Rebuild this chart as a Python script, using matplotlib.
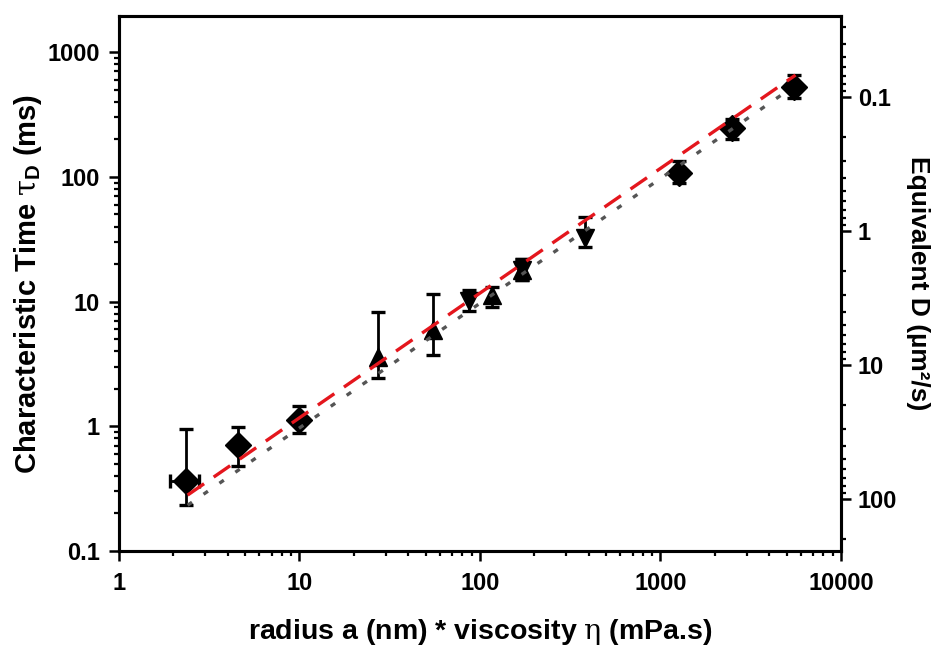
import matplotlib

matplotlib.use("Agg")
import matplotlib.pyplot as plt
import numpy as np
from matplotlib.ticker import FixedLocator, FixedFormatter, LogLocator, NullFormatter

plt.rcParams["font.family"] = ["Liberation Sans", "DejaVu Sans"]
plt.rcParams["font.weight"] = "bold"
plt.rcParams["axes.labelweight"] = "bold"
plt.rcParams["mathtext.fontset"] = "custom"
plt.rcParams["mathtext.rm"] = "Liberation Sans:bold"
plt.rcParams["mathtext.it"] = "DejaVu Serif:weight=normal:style=normal"

# a*eta (nm * mPa.s) and characteristic time tau_D (ms)
diamond_x = [2.35, 4.58, 10.0, 1265, 2480, 5495]
diamond_y = [0.364, 0.703, 1.12, 108, 245, 528]
diamond_lo = [0.234, 0.483, 0.88, 89.6, 203, 427]
diamond_hi = [0.955, 0.98, 1.45, 134, 293, 662]

circle_x = [2.35, 4.58, 10.0, 1265, 2480, 5495]
circle_y = [0.364, 0.703, 1.12, 108, 245, 528]

up_x = [27.3, 54.9, 116, 172]
up_y = [3.6, 5.9, 11.2, 18.0]
up_lo = [2.44, 3.73, 9.05, 14.9]
up_hi = [8.3, 11.4, 13.2, 22.0]

down_x = [86.9, 172, 384]
down_y = [10.1, 18.0, 32.5]
down_lo = [8.4, 14.9, 27.6]
down_hi = [12.3, 22.0, 48.0]

# horizontal error on the smallest probe
first_x_lo = 1.91
first_x_hi = 2.79

# linear fits tau = k * (a*eta)
red_k, red_range = 0.117, (2.4, 5600)
gray_k, gray_range = 0.097, (2.4, 4900)

left_ticks = [0.1, 1, 10, 100, 1000]
left_labels = ["0.1", "1", "10", "100", "1000"]
bottom_ticks = [1, 10, 100, 1000, 10000]
bottom_labels = ["1", "10", "100", "1000", "10000"]
right_ticks = [0.1, 1, 10, 100]
right_labels = ["0.1", "1", "10", "100"]


def yerr(y, lo, hi):
    y = np.asarray(y)
    return [y - np.asarray(lo), np.asarray(hi) - y]


fig = plt.figure(figsize=(9.34, 6.48), dpi=100)
ax = fig.add_axes([0.1274, 0.1497, 0.7730, 0.8256])

err_kw = dict(fmt="none", ecolor="black", elinewidth=2.0, capsize=4.8, capthick=2.4, zorder=3)
ax.errorbar(diamond_x, diamond_y, yerr=yerr(diamond_y, diamond_lo, diamond_hi), **err_kw)
ax.errorbar(up_x, up_y, yerr=yerr(up_y, up_lo, up_hi), **err_kw)
ax.errorbar(down_x, down_y, yerr=yerr(down_y, down_lo, down_hi), **err_kw)
ax.errorbar(
    [diamond_x[0]], [diamond_y[0]],
    xerr=[[diamond_x[0] - first_x_lo], [first_x_hi - diamond_x[0]]],
    **err_kw,
)

ax.plot(diamond_x, diamond_y, "D", color="black", markersize=13, zorder=4)
ax.plot(circle_x, circle_y, "o", color="black", markersize=12, zorder=4)
ax.plot(up_x, up_y, "^", color="black", markersize=13, zorder=4)
ax.plot(down_x, down_y, "v", color="black", markersize=13, zorder=4)

xr = np.array(red_range)
ax.plot(xr, red_k * xr, color="#e4161d", linewidth=2.4, dashes=(6, 3.5), zorder=5)
xg = np.array(gray_range)
ax.plot(xg, gray_k * xg, color="#555555", linewidth=2.4, dashes=(1.6, 4.2), zorder=5)

ax.set_xscale("log")
ax.set_yscale("log")
ax.set_xlim(1, 10000)
ax.set_ylim(0.1, 1950)

ax.xaxis.set_major_locator(FixedLocator(bottom_ticks))
ax.xaxis.set_major_formatter(FixedFormatter(bottom_labels))
ax.yaxis.set_major_locator(FixedLocator(left_ticks))
ax.yaxis.set_major_formatter(FixedFormatter(left_labels))
for axis in (ax.xaxis, ax.yaxis):
    axis.set_minor_locator(LogLocator(base=10, subs=np.arange(2, 10)))
    axis.set_minor_formatter(NullFormatter())

for spine in ax.spines.values():
    spine.set_linewidth(2.2)

ax.tick_params(which="major", direction="out", length=7, width=1.8, labelsize=17)
ax.tick_params(axis="x", which="major", pad=8)
ax.tick_params(axis="y", which="major", pad=7)
ax.tick_params(which="minor", direction="out", length=3.6, width=1.6)
ax.tick_params(top=False, right=False, which="both")

ax.set_xlabel(r"radius a (nm) * viscosity $\eta$ (mPa.s)", fontsize=20.5, labelpad=16)
ax.set_ylabel(r"Characteristic Time $\tau_\mathrm{D}$ (ms)", fontsize=21, labelpad=2)

# equivalent diffusion coefficient, inverse scale on the right
ax2 = ax.twinx()
ax2.set_yscale("log")
ax2.set_ylim(245, 0.0248)
ax2.yaxis.set_major_locator(FixedLocator(right_ticks))
ax2.yaxis.set_major_formatter(FixedFormatter(right_labels))
ax2.yaxis.set_minor_locator(LogLocator(base=10, subs=np.arange(2, 10)))
ax2.yaxis.set_minor_formatter(NullFormatter())
ax2.tick_params(which="major", direction="out", length=7, width=1.8, labelsize=17, pad=5)
ax2.tick_params(which="minor", direction="out", length=3.6, width=1.6)
for spine in ax2.spines.values():
    spine.set_linewidth(2.2)
ax2.set_ylabel("Equivalent D (µm²/s)", fontsize=19, rotation=270, labelpad=24)

fig.savefig("out.png", dpi=100)
